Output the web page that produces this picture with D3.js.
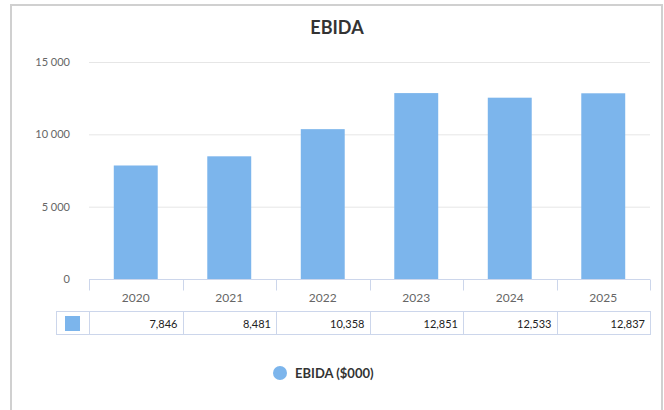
<!DOCTYPE html>
<html>
<head>
<meta charset="utf-8">
<script src="https://cdn.jsdelivr.net/npm/d3@7"></script>
<style>
  body { margin: 0; background: #fff; }
  svg { display: block; font-family: Lato, sans-serif; }
</style>
</head>
<body>
<svg id="chart" width="664" height="410"></svg>
<script>
const years = ["2020", "2021", "2022", "2023", "2024", "2025"];
const ebida = [7846, 8481, 10358, 12851, 12533, 12837];
const yTicks = [0, 5000, 10000, 15000];
const seriesName = "EBIDA ($000)";

const svg = d3.select("#chart");
const barColor = "#7cb5ec";
const lineColor = "#ccd6eb";

// frame
svg.append("rect")
  .attr("x", 11).attr("y", 5)
  .attr("width", 651).attr("height", 420)
  .attr("fill", "#fff")
  .attr("stroke", "#d0d0d0")
  .attr("stroke-width", 2);

// title
svg.append("text")
  .attr("x", 337).attr("y", 34)
  .attr("text-anchor", "middle")
  .style("font-size", "18px")
  .style("font-weight", "bold")
  .style("fill", "#333")
  .text("EBIDA");

const plot = { left: 89, right: 650, top: 62, bottom: 279 };

const x = d3.scaleBand()
  .domain(years)
  .range([plot.left, plot.right])
  .paddingInner(0)
  .paddingOuter(0);

const y = d3.scaleLinear()
  .domain([0, 15000])
  .range([plot.bottom, plot.top]);

// gridlines
svg.append("g")
  .selectAll("line")
  .data(yTicks.filter(d => d > 0))
  .join("line")
  .attr("x1", plot.left).attr("x2", plot.right)
  .attr("y1", d => y(d) + 0.5).attr("y2", d => y(d) + 0.5)
  .attr("stroke", "#e6e6e6");

// y labels
svg.append("g")
  .selectAll("text")
  .data(yTicks)
  .join("text")
  .attr("x", 70)
  .attr("y", d => y(d) + 4)
  .attr("text-anchor", "end")
  .style("font-size", "11px")
  .style("fill", "#666")
  .text(d => d3.format(",")(d).replace(/,/g, " "));

// bars
const bw = x.bandwidth() * 0.47;
svg.append("g")
  .selectAll("rect")
  .data(years.map((yr, i) => ({ yr, v: ebida[i] })))
  .join("rect")
  .attr("x", d => x(d.yr) + (x.bandwidth() - bw) / 2)
  .attr("y", d => y(d.v))
  .attr("width", bw)
  .attr("height", d => y(0) - y(d.v))
  .attr("fill", barColor);

// x axis
const xAxis = svg.append("g")
  .attr("transform", `translate(0, ${plot.bottom + 0.5})`);
xAxis.append("line")
  .attr("x1", plot.left).attr("x2", plot.right)
  .attr("stroke", lineColor);
const edges = years.map(d => x(d)).concat([plot.right]);
xAxis.selectAll("line.tick")
  .data(edges)
  .join("line")
  .attr("class", "tick")
  .attr("x1", d => Math.round(d) + 0.5).attr("x2", d => Math.round(d) + 0.5)
  .attr("y1", 0).attr("y2", 11)
  .attr("stroke", lineColor);
xAxis.selectAll("text")
  .data(years)
  .join("text")
  .attr("x", d => x(d) + x.bandwidth() / 2)
  .attr("y", 22)
  .attr("text-anchor", "middle")
  .style("font-size", "12px")
  .style("fill", "#666")
  .text(d => d);

// data table
const tTop = 311.5, tH = 23;
const table = svg.append("g");
table.append("rect")
  .attr("x", 56.5).attr("y", tTop)
  .attr("width", plot.right - 56).attr("height", tH)
  .attr("fill", "none")
  .attr("stroke", lineColor);
table.selectAll("line")
  .data(edges.slice(0, -1))
  .join("line")
  .attr("x1", d => Math.round(d) + 0.5).attr("x2", d => Math.round(d) + 0.5)
  .attr("y1", tTop).attr("y2", tTop + tH)
  .attr("stroke", lineColor);
table.append("rect")
  .attr("x", 65).attr("y", 316)
  .attr("width", 15).attr("height", 15)
  .attr("fill", barColor);
table.selectAll("text")
  .data(years.map((yr, i) => ({ yr, v: ebida[i] })))
  .join("text")
  .attr("x", d => x(d.yr) + x.bandwidth() - 5)
  .attr("y", tTop + 16)
  .attr("text-anchor", "end")
  .style("font-size", "11px")
  .style("fill", "#222")
  .text(d => d3.format(",")(d.v));

// legend
const legend = svg.append("g");
legend.append("circle")
  .attr("cx", 280).attr("cy", 373).attr("r", 7)
  .attr("fill", barColor);
legend.append("text")
  .attr("x", 295).attr("y", 377.5)
  .style("font-size", "13px")
  .style("font-weight", "bold")
  .style("fill", "#333")
  .text(seriesName);
</script>
</body>
</html>
